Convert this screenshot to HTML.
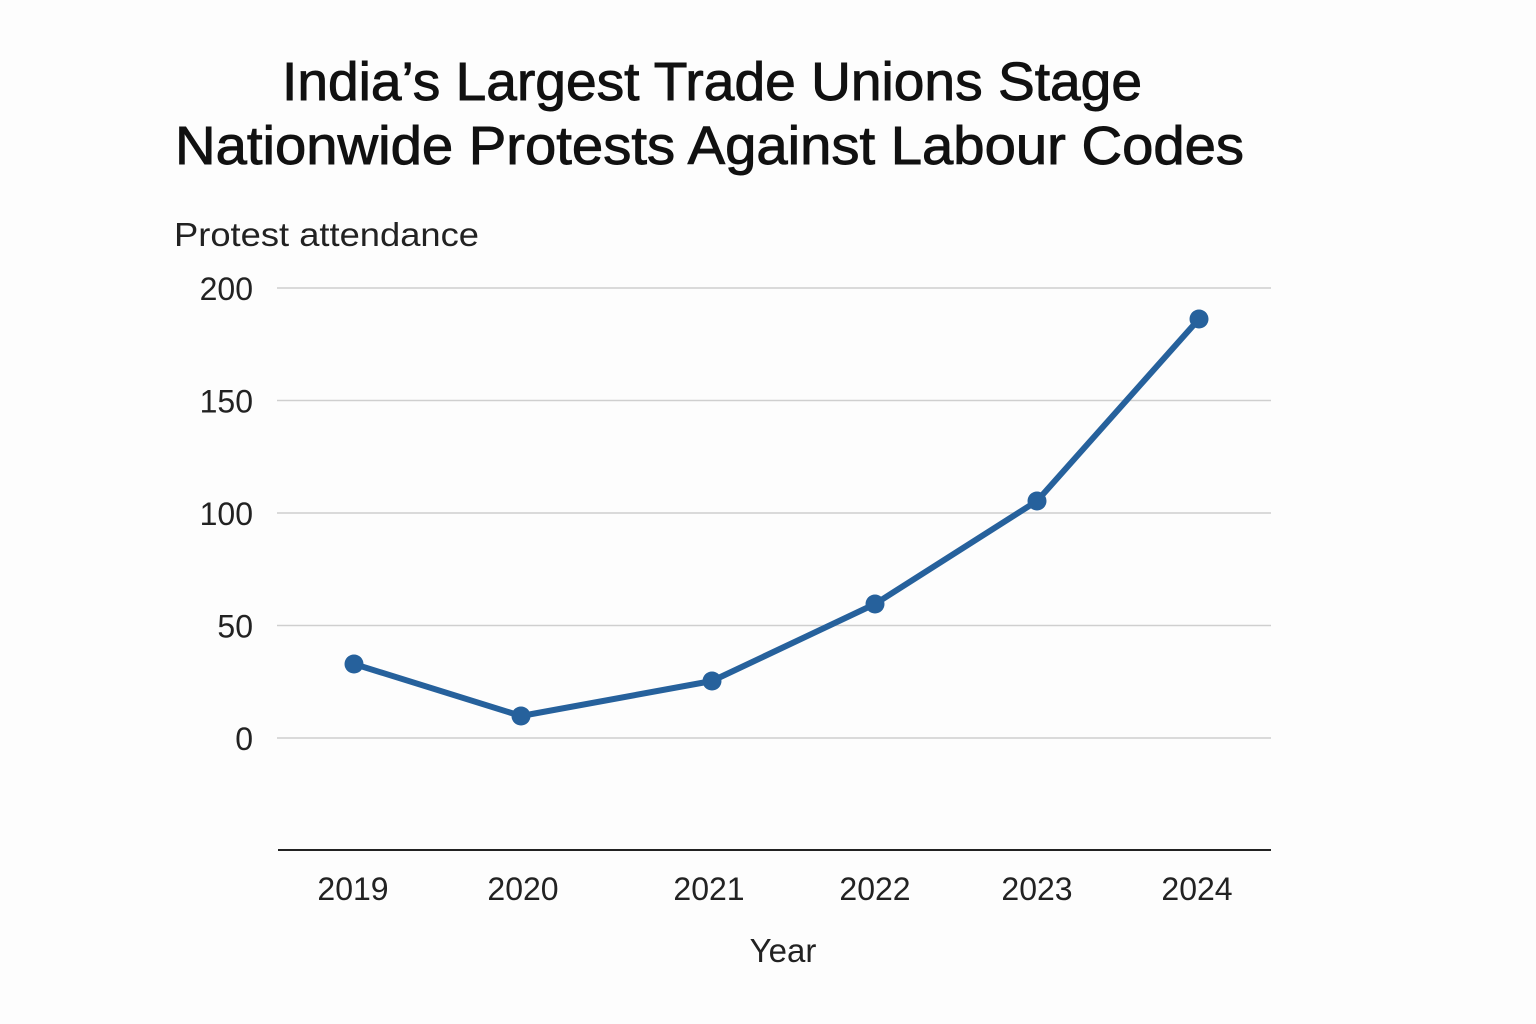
<!DOCTYPE html>
<html>
<head>
<meta charset="utf-8">
<style>
  html, body { margin: 0; padding: 0; background: #fdfdfd; }
  svg { display: block; }
  text { font-family: "Liberation Sans", "DejaVu Sans", sans-serif; }
</style>
</head>
<body>
<svg width="1536" height="1024" viewBox="0 0 1536 1024" xmlns="http://www.w3.org/2000/svg">
  <rect width="1536" height="1024" fill="#fdfdfd"/>

  <!-- Title -->
  <text x="282" y="100" font-size="54" fill="#111" stroke="#111" stroke-width="0.9" textLength="860" lengthAdjust="spacingAndGlyphs">India’s Largest Trade Unions Stage</text>
  <text x="175" y="164" font-size="54" fill="#111" stroke="#111" stroke-width="0.9" textLength="1069" lengthAdjust="spacingAndGlyphs">Nationwide Protests Against Labour Codes</text>

  <!-- Y axis title -->
  <text x="174" y="246" font-size="33" fill="#222" textLength="305" lengthAdjust="spacingAndGlyphs">Protest attendance</text>

  <!-- Gridlines -->
  <g stroke="#cfcfcf" stroke-width="1.6">
    <line x1="277" y1="288" x2="1271" y2="288"/>
    <line x1="277" y1="400.5" x2="1271" y2="400.5"/>
    <line x1="277" y1="513" x2="1271" y2="513"/>
    <line x1="277" y1="625.5" x2="1271" y2="625.5"/>
    <line x1="277" y1="738" x2="1271" y2="738"/>
  </g>

  <!-- X axis line -->
  <line x1="278" y1="850" x2="1271" y2="850" stroke="#222" stroke-width="2"/>

  <!-- Y tick labels -->
  <g font-size="32" fill="#222" text-anchor="end">
    <text x="253" y="300">200</text>
    <text x="253" y="412.5">150</text>
    <text x="253" y="525">100</text>
    <text x="253" y="637.5">50</text>
    <text x="253" y="750">0</text>
  </g>

  <!-- X tick labels -->
  <g font-size="32" fill="#222" text-anchor="middle">
    <text x="353" y="900">2019</text>
    <text x="523" y="900">2020</text>
    <text x="709" y="900">2021</text>
    <text x="875" y="900">2022</text>
    <text x="1037" y="900">2023</text>
    <text x="1197" y="900">2024</text>
  </g>

  <!-- X axis title -->
  <text x="783" y="962" font-size="33" fill="#222" text-anchor="middle">Year</text>

  <!-- Series -->
  <polyline points="354,664 521,716 712,681 875,604 1037,501 1199,319" fill="none" stroke="#26619c" stroke-width="6" stroke-linejoin="round" stroke-linecap="round"/>
  <g fill="#26619c">
    <circle cx="354" cy="664" r="9.5"/>
    <circle cx="521" cy="716" r="9.5"/>
    <circle cx="712" cy="681" r="9.5"/>
    <circle cx="875" cy="604" r="9.5"/>
    <circle cx="1037" cy="501" r="9.5"/>
    <circle cx="1199" cy="319" r="9.5"/>
  </g>
</svg>
</body>
</html>
